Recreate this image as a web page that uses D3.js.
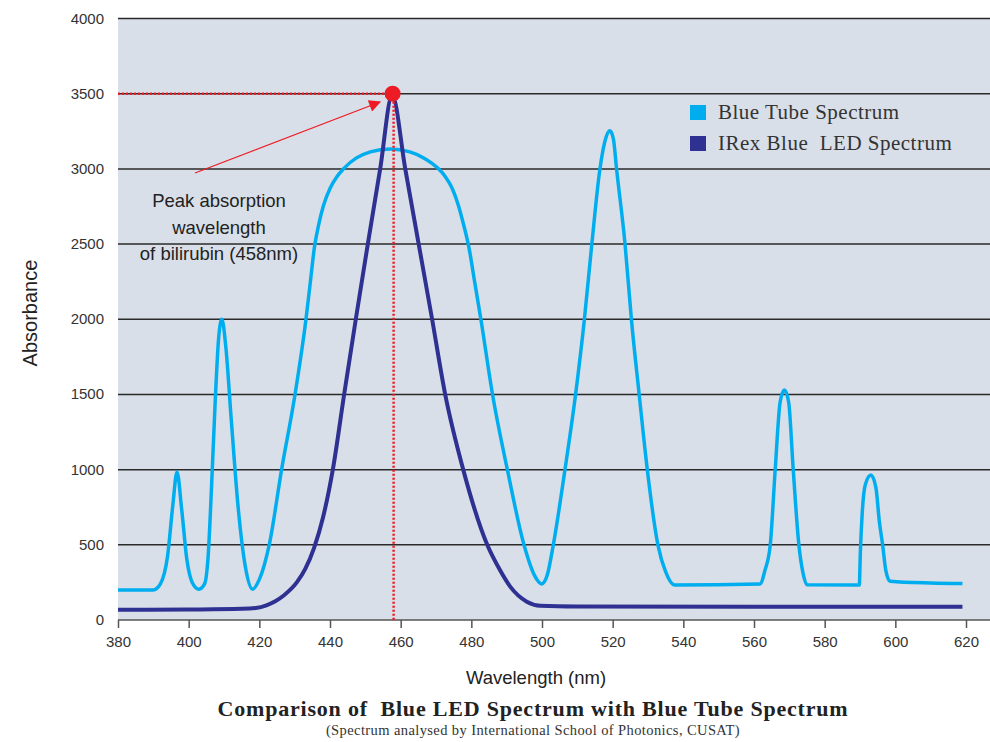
<!DOCTYPE html>
<html>
<head>
<meta charset="utf-8">
<script src="https://cdn.jsdelivr.net/npm/d3@7"></script>
<style>
  body { margin: 0; background: #fff; }
</style>
</head>
<body>
<div id="chart-area"></div>
<script>
// spectrum data (wavelength nm, absorbance)
var tubeSpectrum = [
    [380,200],[390,200],[392,240],[394,420],[395.5,760],[396.7,985],[398,740],[399.5,400],
    [401,250],[402.9,205],[404.5,240],[405.5,420],[406.5,900],[407.5,1450],[408.5,1880],
    [409.4,2000],[410.5,1820],[412,1350],[414,750],[416,360],[418.1,205],[420,270],
    [422.8,500],[426.3,1000],[430.1,1500],[433.2,2000],[434.4,2240],[435.6,2480],[436.8,2630],
    [438.2,2760],[440,2870],[442,2950],[444,3005],[447.5,3073],[451.4,3113],[457,3133],
    [462.6,3113],[466.5,3073],[470.5,3005],[472.6,2950],[474.6,2870],[476.3,2760],[477.8,2630],
    [479.3,2480],[481,2240],[482.7,2000],[486,1500],[490.2,1000],
    [494.9,500],[497.8,300],[499.9,240],[501.5,300],[503.2,500],[506.5,1000],[509.5,1500],
    [512,2000],[514.1,2500],[516.4,3000],[518,3200],[519.2,3253],[520.2,3200],[521.1,3000],
    [523.5,2500],[525.3,2000],[527.5,1500],[529.8,1000],[532.8,500],[535,320],[537.5,233],
    [561.7,240],[563.1,330],[564.6,500],[566,1000],[567.4,1450],[568.6,1530],[569.8,1450],
    [571.1,1000],[572.7,500],[573.8,320],[575,235],[589.8,233],[590.1,450],[590.6,700],
    [591.5,900],[593.1,964],[594.5,880],[595.5,650],[596.4,500],[597.3,330],[598.5,258],
    [610,246],[619,242]
];
var ledSpectrum = [
    [380,68],[400,70],[415,74],[419,80],[422,98],[424.5,125],[427,165],[430.6,250],
    [433,340],[435.5,480],[438,680],[440.8,1000],[444,1500],[447.3,2000],[450.7,2500],
    [454.2,3000],[457.6,3490],[461.3,3000],[465.1,2500],[468.9,2000],[472.6,1500],
    [477.7,1000],[484.5,500],[488.1,332],[491,222],[495.7,122],[499.5,95],[510,90],
    [560,88],[619,88]
];
var xTicks = [380,400,420,440,460,480,500,520,540,560,580,600,620];
var yTicks = [0,500,1000,1500,2000,2500,3000,3500,4000];
var seriesNames = ["Blue Tube Spectrum", "IRex Blue  LED Spectrum"];
var seriesColors = ["#00aeef", "#2e3192"];
var peakWavelength = 458, peakValue = 3500;
var noteLines = ["Peak absorption", "wavelength", "of bilirubin (458nm)"];

var W = 990, H = 742;
var svg = d3.select("#chart-area").append("svg")
    .attr("width", W)
    .attr("height", H);

var x = d3.scaleLinear().domain([380,620]).range([118,966]);
var y = d3.scaleLinear().domain([0,4000]).range([620,18.5]);

// plot background
svg.append("rect")
    .attr("x", 118).attr("y", y(4000))
    .attr("width", W - 118).attr("height", y(0) - y(4000))
    .attr("fill", "#d9dfe8");

// horizontal grid lines
svg.selectAll("line.grid").data(yTicks).enter().append("line")
    .attr("class", "grid")
    .attr("x1", 118).attr("x2", W)
    .attr("y1", (d) => { return y(d); })
    .attr("y2", (d) => { return y(d); })
    .attr("stroke", (d) => { return d === 0 ? "#555" : "#2a2a2a"; })
    .attr("stroke-width", 1.5);

// y tick labels
svg.selectAll("text.ytick").data(yTicks).enter().append("text")
    .attr("class", "ytick")
    .attr("x", 104)
    .attr("y", (d) => { return y(d) + 5; })
    .attr("text-anchor", "end")
    .attr("font-family", "Liberation Sans, Arial, sans-serif")
    .attr("font-size", "15px")
    .attr("fill", "#333")
    .text((d) => { return d; });

// x axis
var xAxis = d3.axisBottom(x).tickValues(xTicks).tickSize(8).tickPadding(8).tickSizeOuter(0);
var xAxisGroup = svg.append("g")
    .attr("transform", "translate(0," + y(0) + ")")
    .call(xAxis);
xAxisGroup.select(".domain").remove();
xAxisGroup.selectAll(".tick line").attr("stroke", "#555").attr("stroke-width", 1.5);
xAxisGroup.selectAll(".tick text")
    .attr("font-family", "Liberation Sans, Arial, sans-serif")
    .attr("font-size", "15px")
    .attr("fill", "#333");

// curves
var line = d3.line()
    .x((d) => { return x(d[0]); })
    .y((d) => { return y(d[1]); })
    .curve(d3.curveMonotoneX);

svg.append("path").datum(tubeSpectrum)
    .attr("d", line)
    .attr("fill", "none")
    .attr("stroke", seriesColors[0])
    .attr("stroke-width", 3.5);

svg.append("path").datum(ledSpectrum)
    .attr("d", line)
    .attr("fill", "none")
    .attr("stroke", seriesColors[1])
    .attr("stroke-width", 4);

// peak markers
svg.append("line")
    .attr("x1", 118).attr("x2", x(peakWavelength))
    .attr("y1", y(peakValue)).attr("y2", y(peakValue))
    .attr("stroke", "#ed1c24").attr("stroke-width", 2.5)
    .attr("stroke-dasharray", "2,2");
svg.append("line")
    .attr("x1", x(peakWavelength)).attr("x2", x(peakWavelength))
    .attr("y1", y(peakValue)).attr("y2", y(0))
    .attr("stroke", "#ed1c24").attr("stroke-width", 2.5)
    .attr("stroke-dasharray", "2,2");
svg.append("circle")
    .attr("cx", x(peakWavelength) - 1).attr("cy", y(peakValue))
    .attr("r", 8)
    .attr("fill", "#ed1c24");

// arrow
svg.append("defs").append("marker")
    .attr("id", "arrowhead")
    .attr("viewBox", "0 0 10 10")
    .attr("refX", 9).attr("refY", 5)
    .attr("markerWidth", 16).attr("markerHeight", 12)
    .attr("markerUnits", "userSpaceOnUse")
    .attr("orient", "auto")
    .append("path")
    .attr("d", "M0,0 L10,5 L0,10 Z")
    .attr("fill", "#ed1c24");
svg.append("line")
    .attr("x1", 195).attr("y1", 173)
    .attr("x2", 380).attr("y2", 102)
    .attr("stroke", "#ed1c24").attr("stroke-width", 1.3)
    .attr("marker-end", "url(#arrowhead)");

// note
svg.selectAll("text.note").data(noteLines).enter().append("text")
    .attr("class", "note")
    .attr("x", 219)
    .attr("y", (d, i) => { return 207 + i * 26.5; })
    .attr("text-anchor", "middle")
    .attr("font-family", "Liberation Sans, Arial, sans-serif")
    .attr("font-size", "18.5px")
    .attr("fill", "#222")
    .text((d) => { return d; });

// legend
var legend = svg.selectAll("g.legend").data(seriesNames).enter().append("g")
    .attr("class", "legend")
    .attr("transform", (d, i) => { return "translate(690," + (105 + i * 31) + ")"; });
legend.append("rect")
    .attr("width", 16).attr("height", 15)
    .attr("fill", (d, i) => { return seriesColors[i]; });
legend.append("text")
    .attr("x", 28).attr("y", 14)
    .attr("font-family", "Liberation Serif, Times New Roman, serif")
    .attr("font-size", "21px")
    .attr("letter-spacing", "0.5px")
    .attr("fill", "#333")
    .style("white-space", "pre")
    .text((d) => { return d; });

// axis labels
svg.append("text")
    .attr("x", 536).attr("y", 684)
    .attr("text-anchor", "middle")
    .attr("font-family", "Liberation Sans, Arial, sans-serif")
    .attr("font-size", "18.5px")
    .attr("fill", "#222")
    .text("Wavelength (nm)");
svg.append("text")
    .attr("transform", "translate(37,313) rotate(-90)")
    .attr("text-anchor", "middle")
    .attr("font-family", "Liberation Sans, Arial, sans-serif")
    .attr("font-size", "20px")
    .attr("fill", "#222")
    .text("Absorbance");

// titles
svg.append("text")
    .attr("x", 533).attr("y", 716)
    .attr("text-anchor", "middle")
    .attr("font-family", "Liberation Serif, Times New Roman, serif")
    .attr("font-size", "22px")
    .attr("font-weight", "bold")
    .attr("letter-spacing", "0.8px")
    .attr("fill", "#222")
    .style("white-space", "pre")
    .text("Comparison of  Blue LED Spectrum with Blue Tube Spectrum");
svg.append("text")
    .attr("x", 533).attr("y", 735)
    .attr("text-anchor", "middle")
    .attr("font-family", "Liberation Serif, Times New Roman, serif")
    .attr("font-size", "14.5px")
    .attr("letter-spacing", "0.4px")
    .attr("fill", "#333")
    .text("(Spectrum analysed by International School of Photonics, CUSAT)");
</script>
</body>
</html>
